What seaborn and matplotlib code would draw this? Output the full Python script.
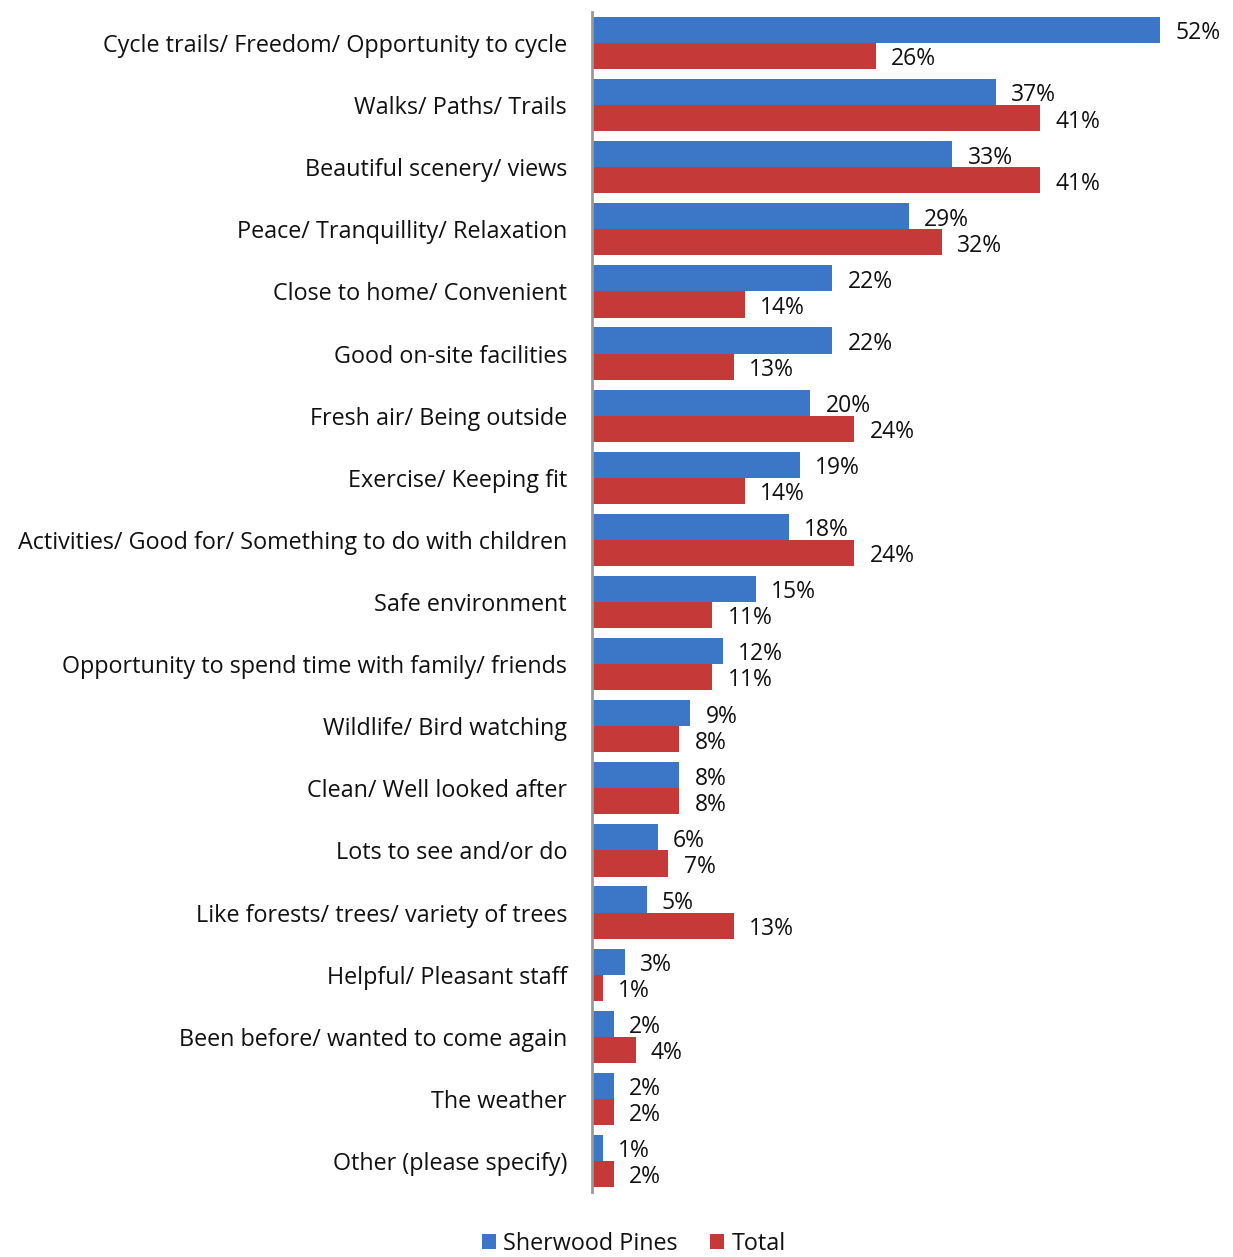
import matplotlib
matplotlib.use("Agg")
import matplotlib.pyplot as plt
import seaborn as sns
import pandas as pd

categories = [
    "Cycle trails/ Freedom/ Opportunity to cycle",
    "Walks/ Paths/ Trails",
    "Beautiful scenery/ views",
    "Peace/ Tranquillity/ Relaxation",
    "Close to home/ Convenient",
    "Good on-site facilities",
    "Fresh air/ Being outside",
    "Exercise/ Keeping fit",
    "Activities/ Good for/ Something to do with children",
    "Safe environment",
    "Opportunity to spend time with family/ friends",
    "Wildlife/ Bird watching",
    "Clean/ Well looked after",
    "Lots to see and/or do",
    "Like forests/ trees/ variety of trees",
    "Helpful/ Pleasant staff",
    "Been before/ wanted to come again",
    "The weather",
    "Other (please specify)",
]
sherwood = [52, 37, 33, 29, 22, 22, 20, 19, 18, 15, 12, 9, 8, 6, 5, 3, 2, 2, 1]
total = [26, 41, 41, 32, 14, 13, 24, 14, 24, 11, 11, 8, 8, 7, 13, 1, 4, 2, 2]
series_names = ["Sherwood Pines", "Total"]
colors = ["#3B77C6", "#C53A38"]

df = pd.DataFrame({
    "category": categories * 2,
    "value": sherwood + total,
    "series": [series_names[0]] * len(categories) + [series_names[1]] * len(categories),
})

sns.set_style("white")
plt.rcParams["font.family"] = ["Open Sans", "DejaVu Sans"]

W, H = 1233, 1257
fig = plt.figure(figsize=(W / 100, H / 100), dpi=100)
ax_left, ax_right, ax_top, ax_bottom = 592, 1225, 12, 1192
ax = fig.add_axes([ax_left / W, 1 - ax_bottom / H, (ax_right - ax_left) / W, (ax_bottom - ax_top) / H])

sns.barplot(data=df, y="category", x="value", hue="series", order=categories,
            hue_order=series_names, palette=colors, orient="h", width=0.84,
            saturation=1, ax=ax, legend=True, linewidth=0, edgecolor="none")

px_per_pct = (1160 - 592) / 52
ax.set_xlim(0, (ax_right - ax_left) / px_per_pct)
ax.set_ylim(len(categories) - 0.5, -0.5)

for cont in ax.containers:
    for t in ax.bar_label(cont, labels=[f"{v:.0f}%" for v in cont.datavalues], padding=11,
                          fontsize=16.5, color="#111111"):
        x0, y0 = t.xyann
        t.xyann = (x0, y0 - 2.4)

ax.set_xlabel("")
ax.set_ylabel("")
ax.set_xticks([])
ax.tick_params(axis="y", length=0, pad=18, labelsize=16.8, labelcolor="#111111")
for s in ["top", "right", "bottom"]:
    ax.spines[s].set_visible(False)
ax.spines["left"].set_color("#999999")
ax.spines["left"].set_linewidth(2)

leg = ax.legend(loc="upper center", bbox_to_anchor=((634 - ax_left) / (ax_right - ax_left), -0.026),
                ncol=2, frameon=False, fontsize=16.8, handlelength=0.6, handleheight=0.6,
                handletextpad=0.3, columnspacing=1.4, borderaxespad=0)
for t in leg.get_texts():
    t.set_color("#111111")

fig.savefig("out.png", dpi=100)
